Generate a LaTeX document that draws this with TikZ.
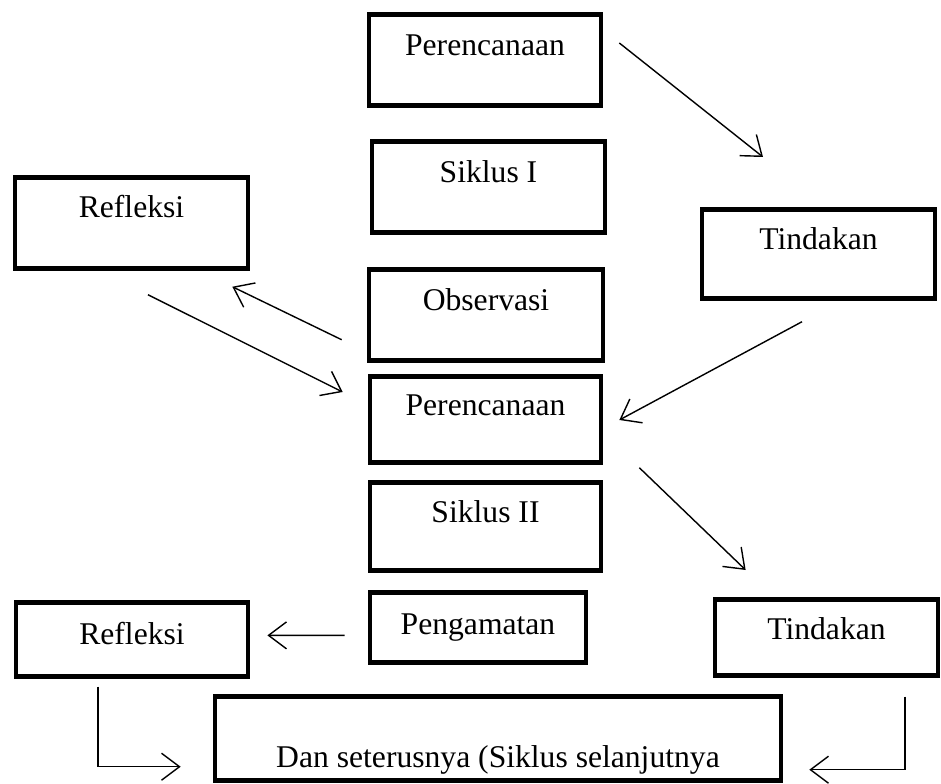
\documentclass[tikz,border=0pt]{standalone}
\usepackage{fontspec}
\setmainfont{Liberation Serif}
\usetikzlibrary{calc,positioning,arrows.meta}
\tikzset{
   box/.style={ rectangle, draw=black, line width=2.7pt, inner ysep=0pt, anchor=north, text centered, font=\fontsize{18}{21}\selectfont},
   flow/.style={ line width=0.8pt, -{Straight Barb[length=0.36cm,width=0.54cm]}},
}
\begin{document}
\begin{tikzpicture}[x=0.02cm,y=-0.02cm]

  \useasboundingbox (0,0) rectangle (941,784);

  %% Siklus I
  \node[box, minimum width=4.64cm, text height=0.82cm, text depth=1.00cm] at (485,12)    (per1) {Perencanaan};
  \node[box, minimum width=4.66cm, text height=0.82cm, text depth=1.00cm] at (488.5,139) (sik1) {Siklus I};
  \node[box, minimum width=4.66cm, text height=0.80cm, text depth=1.02cm] at (131.5,175) (ref1) {Refleksi};
  \node[box, minimum width=4.66cm, text height=0.80cm, text depth=0.98cm] at (818.5,207) (tin1) {Tindakan};
  \node[box, minimum width=4.68cm, text height=0.82cm, text depth=1.00cm] at (486,267)   (obs)  {Observasi};

  %% Siklus II
  \node[box, minimum width=4.62cm, text height=0.78cm, text depth=0.94cm] at (485.5,374) (per2) {Perencanaan};
  \node[box, minimum width=4.62cm, text height=0.80cm, text depth=0.96cm] at (485.5,480) (sik2) {Siklus II};
  \node[box, minimum width=4.32cm, text height=0.84cm, text depth=0.56cm] at (478,590)   (pen)  {Pengamatan};
  \node[box, minimum width=4.64cm, text height=0.84cm, text depth=0.64cm] at (132,600)   (ref2) {Refleksi};
  \node[box, minimum width=4.46cm, text height=0.80cm, text depth=0.72cm] at (826.5,597) (tin2) {Tindakan};

  \node[box, minimum width=11.32cm, text height=1.42cm, text depth=0.26cm] at (498,694) (dan) {Dan seterusnya (Siklus selanjutnya};

  \draw[flow] ($(per1.north east)+(16,31)$) -- ($(tin1.north)+(-55.5,-50)$);
  \draw[flow] ($(tin1.south)+(-16.5,21)$)   -- ($(per2.north east)+(16,46)$);
  \draw[flow] ($(obs.south west)+(-25,-23)$) -- ($(ref1.south east)+(-18,16)$);
  \draw[flow] ($(ref1.south)+(16.5,24)$)    -- ($(per2.north west)+(-25,18)$);

  \draw[flow] ($(per2.south east)+(36,3)$)  -- ($(tin2.north west)+(33,-27)$);
  \draw[flow] ($(pen.west)+(-23,8)$)        -- ($(ref2.east)+(17,-4)$);

  %% Elbows
  \draw[flow] ($(ref2.south)+(-34,8)$)   |- ($(dan.south west)+(-32,-16)$);
  \draw[flow] ($(tin2.south)+(78.5,19)$) |- ($(dan.south east)+(26,-13)$);

\end{tikzpicture}
\end{document}
